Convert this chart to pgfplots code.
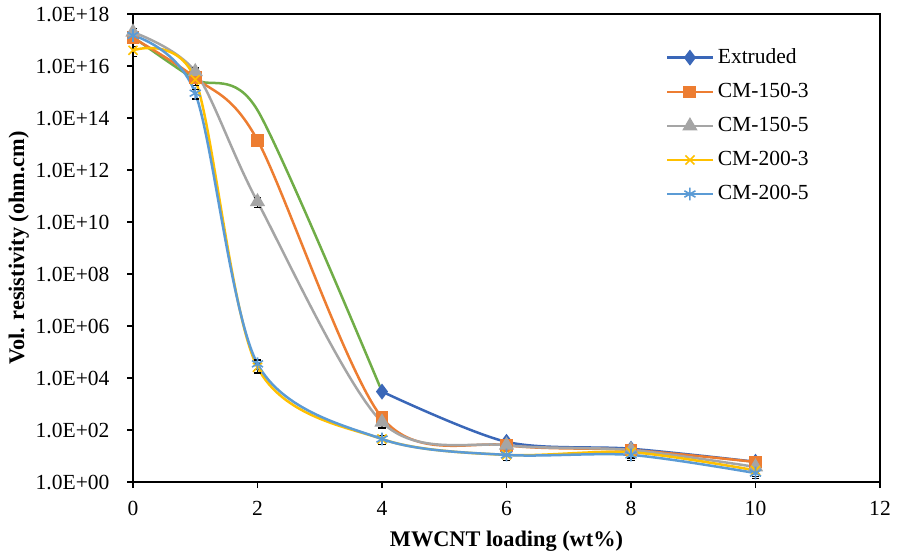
\documentclass[border=0pt]{standalone}
\usepackage{pgfplots}
\pgfplotsset{compat=1.18}
\usepackage{fontspec}
\setmainfont{Liberation Serif}

\definecolor{cExt}{HTML}{3A67B8}
\definecolor{cOr}{HTML}{ED7D31}
\definecolor{cGr}{HTML}{A5A5A5}
\definecolor{cYe}{HTML}{FFC000}
\definecolor{cLb}{HTML}{5B9BD5}
\definecolor{cGn}{HTML}{70AD47}

\begin{document}
\fontsize{10.8}{13}\selectfont
\begin{tikzpicture}
\begin{axis}[
  name=ax,
  scale only axis,
  width=373.5bp, height=234bp,
  ymode=log, log basis y=10,
  xmin=0, xmax=12, ymin=1, ymax=1e18,
  xtick={0,2,...,12},
  ytick={1,1e2,1e4,1e6,1e8,1e10,1e12,1e14,1e16,1e18},
  yticklabels={1.0E+00,1.0E+02,1.0E+04,1.0E+06,1.0E+08,1.0E+10,1.0E+12,1.0E+14,1.0E+16,1.0E+18},
  minor tick num=0,
  /pgf/number format/assume math mode=true,
  tick align=outside,
  tick pos=left,
  major tick length=3bp,
  tick style={black, line width=0.8bp},
  axis line style={black, line width=1bp},
  ticklabel style={font=\fontsize{10.8}{13}\selectfont},
  yticklabel style={xshift=-5bp},
  xticklabel style={yshift=-3bp},
  xlabel={\bfseries MWCNT loading (wt\%)},
  ylabel={\bfseries Vol. resistivity (ohm.cm)},
  xlabel style={font=\fontsize{11.2}{13}\selectfont, at={(axis description cs:0.5,-0.126)}, anchor=center},
  ylabel style={font=\fontsize{11.2}{13}\selectfont, at={(axis description cs:-0.153,0.5)}, anchor=center},
  every axis plot/.append style={line width=1.25bp, smooth},
  error bars/y dir=both,
  error bars/y fixed relative=0.4,
  error bars/error bar style={black, line width=0.6bp},
  error bars/error mark options={black, rotate=90, mark size=1.8bp, line width=0.6bp},
  legend cell align=left,
  legend style={draw=none, fill=none, at={(0.705,0.944)}, anchor=north west,
    font=\fontsize{10.8}{13}\selectfont, row sep=4.25bp,
    /tikz/every even column/.append style={column sep=1bp}},
  legend image code/.code={%
    \draw[mark repeat=2, mark phase=2] plot coordinates {(0cm,0cm) (0.4cm,0cm) (0.8cm,0cm)};},
]
% Extruded, low-loading part of the fitted curve
\addplot[cGn, no markers, forget plot, error bars/y dir=none, tension=0.45]
  coordinates {(0,1.3e17) (1,3.0e15) (2,2.0e14) (4,3.0e3)};

\addplot[cExt, mark=diamond*, mark size=3bp, mark options={fill=cExt}, error bars/y dir=none]
  coordinates {(4,3.0e3) (6,35) (8,19) (10,6)};
\addlegendentry{Extruded}

\addplot[cOr, mark=square*, mark size=2.6bp, mark options={fill=cOr}]
  coordinates {(0,1.2e17) (1,3.5e15) (2,1.4e13) (4,3.0e2) (6,26) (8,17) (10,5.9)};
\addlegendentry{CM-150-3}

\addplot[cGr, mark=triangle*, mark size=3.2bp, mark options={fill=cGr}]
  coordinates {(0,2.0e17) (1,6.0e15) (2,6.0e10) (4,2.0e2) (6,26) (8,17) (10,3.8)};
\addlegendentry{CM-150-5}

\addplot[cYe, mark=x, mark size=3.2bp, mark options={line width=0.8bp}]
  coordinates {(0,4.0e16) (1,3.0e15) (2,2.6e4) (4,45) (6,11) (8,14) (10,2.8)};
\addlegendentry{CM-200-3}

\addplot[cLb, mark=asterisk, mark size=3.2bp, mark options={line width=0.8bp}]
  coordinates {(0,1.5e17) (1,9.0e14) (2,3.5e4) (4,45) (6,11) (8,11) (10,2.2)};
\addlegendentry{CM-200-5}
\end{axis}
\pgfresetboundingbox
\path (ax.south west) ++(-66.5bp,-37.5bp) coordinate (bl);
\path (ax.north east) ++(8.5bp,7bp) coordinate (tr);
\path[use as bounding box] (bl) rectangle (tr);
\end{tikzpicture}
\end{document}
